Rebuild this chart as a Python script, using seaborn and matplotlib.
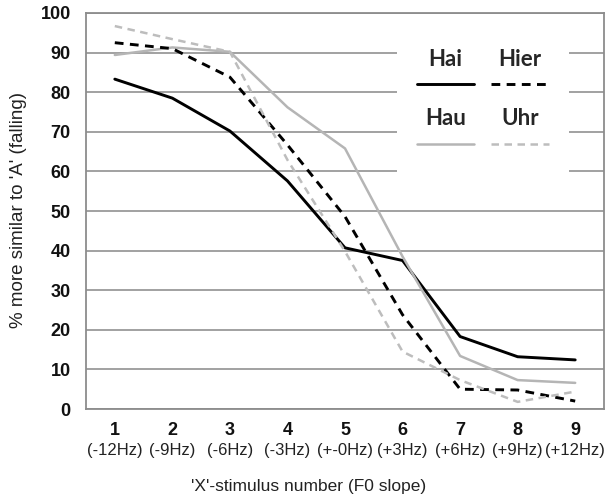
import pandas as pd
import seaborn as sns
import matplotlib.pyplot as plt
from matplotlib.offsetbox import VPacker

sns.set_theme(style="white")
plt.rcParams["font.family"] = ["Liberation Sans", "DejaVu Sans"]

stimulus = [1, 2, 3, 4, 5, 6, 7, 8, 9]
hz_labels = ["(-12Hz)", "(-9Hz)", "(-6Hz)", "(-3Hz)", "(+-0Hz)",
             "(+3Hz)", "(+6Hz)", "(+9Hz)", "(+12Hz)"]
hai = [83.3, 78.5, 70.2, 57.6, 40.7, 37.5, 18.3, 13.2, 12.4]
hier = [92.5, 91.0, 83.8, 66.7, 48.6, 23.8, 5.0, 4.8, 2.0]
hau = [89.4, 91.3, 90.2, 76.2, 65.8, 38.5, 13.4, 7.3, 6.6]
uhr = [96.7, 93.4, 90.2, 62.9, 39.8, 14.5, 7.3, 1.8, 4.4]
words = ["Hai", "Hau", "Hier", "Uhr"]

df = pd.DataFrame({"stimulus": stimulus, "Hai": hai, "Hier": hier,
                   "Hau": hau, "Uhr": uhr})
df = df.melt(id_vars="stimulus", var_name="word", value_name="pct")

palette = {"Hai": "black", "Hier": "black", "Hau": "#b5b5b5", "Uhr": "#bdbdbd"}
dashes = {"Hai": "", "Hier": (3, 2.2), "Hau": "", "Uhr": (3, 2.2)}

fig = plt.figure(figsize=(6.11, 4.98), dpi=100)
ax = fig.add_axes([0.1408, 0.1787, 0.8477, 0.7952])
sns.lineplot(ax=ax, data=df, x="stimulus", y="pct", hue="word", style="word",
             hue_order=words, style_order=words, palette=palette,
             dashes=dashes, legend=False, linewidth=2.1)
for ln, w in zip(ax.lines, words):
    if w in ("Hau", "Uhr"):
        ln.set_linewidth(1.8)

ax.set_xlim(0.5, 9.5)
ax.set_ylim(0, 100)
ax.set_yticks(range(0, 101, 10))
ax.set_xticks(stimulus)
ax.set_xticklabels([str(s) for s in stimulus], fontsize=13, fontweight="bold")
ax.set_yticklabels([str(v) for v in range(0, 101, 10)], fontsize=13, fontweight="bold")
ax.tick_params(axis="x", length=0, pad=9, colors="#111111")
ax.tick_params(axis="y", length=0, pad=11, colors="#111111")
ax.grid(axis="y", color="#9a9a9a", linewidth=1.3)
ax.set_axisbelow(True)
for sp in ax.spines.values():
    sp.set_color("#8c8c8c")
    sp.set_linewidth(1.3)

for x, lab in zip(stimulus, hz_labels):
    ax.annotate(lab, xy=(x, 0), xycoords=("data", "axes fraction"),
                xytext=(0, -30), textcoords="offset points",
                ha="center", va="center", fontsize=12, color="#222222")

ax.set_xlabel("'X'-stimulus number (F0 slope)", fontsize=12.5, color="#222222")
ax.xaxis.set_label_coords(0.43, -0.178)
ax.set_ylabel("% more similar to 'A' (falling)", fontsize=13.5, color="#222222",
              va="center")
ax.yaxis.set_label_coords(-0.13, 0.503)

# legend: label above its line sample
leg = ax.legend(ax.lines, words, ncol=2, loc="center",
                bbox_to_anchor=(0.766, 0.78), frameon=True, framealpha=1,
                facecolor="white", edgecolor="none", fancybox=False,
                prop={"family": "Lato", "weight": "bold", "size": 16},
                handlelength=2.6, columnspacing=0.75, labelspacing=0.72,
                borderpad=0.9)
for col in leg._legend_handle_box.get_children():
    rows = []
    for item in col.get_children():
        h, t = item.get_children()
        rows.append(VPacker(children=[t, h], align="center", pad=0, sep=5))
    col._children = rows
leg._legend_box.set_figure(fig)

fig.savefig("out.png", dpi=100)
